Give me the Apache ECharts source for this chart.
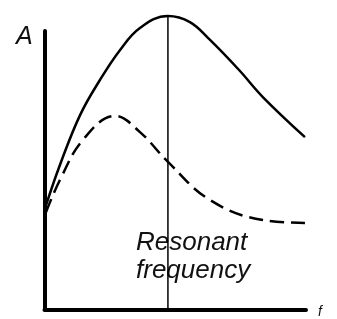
<!DOCTYPE html>
<html>
<head>
<meta charset="utf-8">
<script src="https://cdn.jsdelivr.net/npm/echarts@6/dist/echarts.min.js"></script>
<style>
  html, body { margin: 0; padding: 0; background: #fff; }
  #chart { width: 337px; height: 319px; }
</style>
</head>
<body>
<div id="chart"></div>
<script>
// 曲线数据（横轴：频率 0-10，纵轴：振幅 0-10）
var solidCurve = [
  [0.06, 3.75], [0.59, 5.19], [1.36, 6.98], [2.12, 8.24], [2.89, 9.32],
  [3.65, 10.11], [4.72, 10.54], [5.56, 10.32], [6.33, 9.68], [7.44, 8.60],
  [8.35, 7.63], [9.96, 6.19]
];
var dashedCurve = [
  [0.06, 3.50], [0.59, 4.65], [1.47, 6.09], [2.70, 6.95], [3.65, 6.37],
  [4.72, 5.30], [6.33, 3.93], [8.35, 3.21], [9.96, 3.11]
];
var resonanceLine = [[4.72, 0], [4.72, 10.54]];

var myChart = echarts.init(document.getElementById('chart'));
var axisCommon = {
  type: 'value',
  min: 0,
  max: 10,
  axisLine: { show: true, lineStyle: { color: '#000', width: 4 } },
  axisTick: { show: false },
  axisLabel: { show: false },
  splitLine: { show: false }
};
myChart.setOption({
  animation: false,
  grid: { left: 44.5, right: 31, top: 31, bottom: 9.5 },
  xAxis: axisCommon,
  yAxis: axisCommon,
  graphic: [
    { type: 'text', left: 16, top: 25,
      style: { text: 'A', font: 'italic 25px "Liberation Sans", Arial', fill: '#111' } },
    { type: 'text', left: 318, top: 305,
      style: { text: 'f', font: 'italic 14px "Liberation Sans", Arial', fill: '#111' } },
    { type: 'text', left: 136, top: 229,
      style: { text: 'Resonant\nfrequency', font: 'italic 26px "Liberation Sans", Arial',
               lineHeight: 28, fill: '#111' } }
  ],
  series: [
    {
      name: 'resonance', type: 'line', data: resonanceLine, symbol: 'none', clip: false,
      lineStyle: { color: '#000', width: 1.5 }
    },
    {
      name: 'solid', type: 'line', data: solidCurve, smooth: 0.4, symbol: 'none', clip: false,
      lineStyle: { color: '#000', width: 2.5 }
    },
    {
      name: 'dashed', type: 'line', data: dashedCurve, smooth: 0.4, symbol: 'none', clip: false,
      lineStyle: { color: '#000', width: 2.5, type: [14, 7] }
    }
  ]
});
</script>
</body>
</html>
